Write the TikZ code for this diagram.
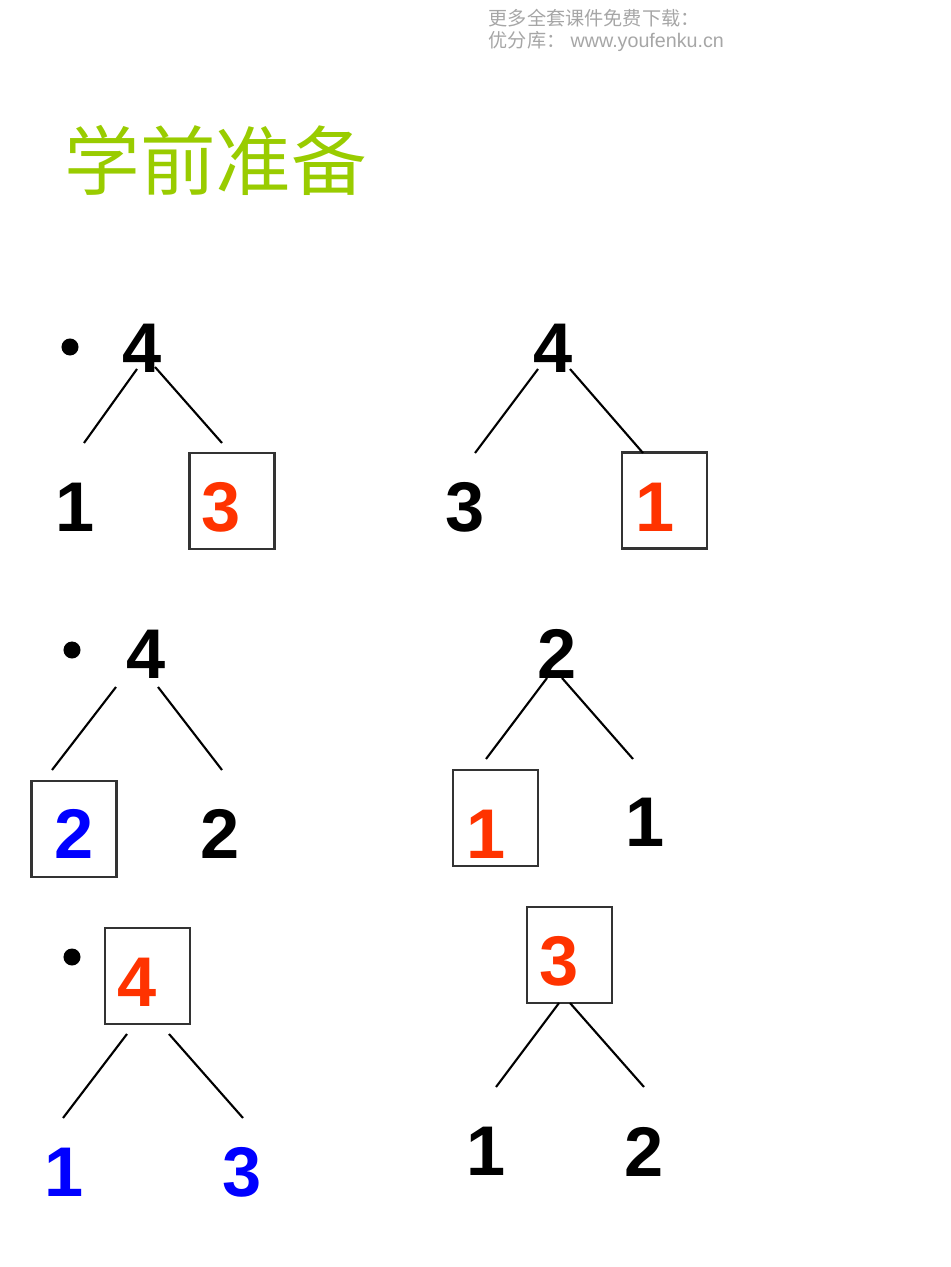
\documentclass[tikz,border=0pt]{standalone}
\usepackage{fontspec}
\setmainfont{Liberation Sans}
\newfontfamily\cjk{Noto Sans CJK SC}
\definecolor{titlegreen}{HTML}{99CC00}
\definecolor{numred}{HTML}{FF3300}
\definecolor{numblue}{HTML}{0000FF}
\definecolor{notegray}{HTML}{A6A6A6}
\begin{document}
\begin{tikzpicture}[x=0.01cm,y=-0.01cm,
	num/.style={font=\fontsize{20}{24}\selectfont\bfseries,inner sep=0pt},
	numbox/.style={draw=black!80,line width=0.6pt,minimum width=0.85cm,minimum height=0.96cm,inner sep=0pt},
	branch/.style={line width=0.6pt},
	dot/.style={circle,fill=black,inner sep=0pt,minimum size=0.17cm}]
	\useasboundingbox (0,0) rectangle (950,1267);
	%%%%%%%%%%%%%%%%%%%
	%     header      %
	%%%%%%%%%%%%%%%%%%%
		\node[anchor=west,inner sep=0pt,text=notegray,font=\fontsize{5.45}{6.5}\selectfont] (note1) at (488,18) {\cjk 更多全套课件免费下载：};
		\node[anchor=west,inner sep=0pt,text=notegray,font=\fontsize{5.45}{6.5}\selectfont] (note2) at (488,42) {{\cjk 优分库：} \fontsize{5.6}{6.5}\selectfont www.youfenku.cn};
		% title
		\node[anchor=west,inner sep=0pt,text=titlegreen,font=\fontsize{21.5}{26}\selectfont] (title) at (64,160) {\cjk 学前准备};
	%%%%%%%%%%%%%%%%%%%
	%     4 = 1 + 3   %
	%%%%%%%%%%%%%%%%%%%
		\node[dot] (dot1) at (70,347) {};
		\node[num] (top1) at (142,348) {4};
		\node[num] (left1) at (75.5,507) {1};
		\node[numbox] (box1) at (232,501) {};
		\node[num,text=numred] (right1) at (221,507) {3};
		% branches
			\coordinate (a1) at (137,369); \coordinate (b1) at (84,443);
			\coordinate (c1) at (155,367); \coordinate (d1) at (222,443);
			\draw[branch] (a1) -- (b1);
			\draw[branch] (c1) -- (d1);
	%%%%%%%%%%%%%%%%%%%
	%     4 = 3 + 1   %
	%%%%%%%%%%%%%%%%%%%
		\node[num] (top2) at (553.5,348) {4};
		\node[num] (left2) at (465,507) {3};
		\node[numbox] (box2) at (664.5,500.5) {};
		\node[num,text=numred] (right2) at (655,507) {1};
		% branches
			\coordinate (a2) at (538,369); \coordinate (b2) at (475,453);
			\coordinate (c2) at (570,369); \coordinate (d2) at (643,453);
			\draw[branch] (a2) -- (b2);
			\draw[branch] (c2) -- (d2);
	%%%%%%%%%%%%%%%%%%%
	%     4 = 2 + 2   %
	%%%%%%%%%%%%%%%%%%%
		\node[dot] (dot3) at (72,650) {};
		\node[num] (top3) at (146.5,654.5) {4};
		\node[numbox] (box3) at (74,829) {};
		\node[num,text=numblue] (left3) at (74.5,833.5) {2};
		\node[num] (right3) at (220.5,833.5) {2};
		% branches
			\coordinate (a3) at (116,687); \coordinate (b3) at (52,770);
			\coordinate (c3) at (158,687); \coordinate (d3) at (222,770);
			\draw[branch] (a3) -- (b3);
			\draw[branch] (c3) -- (d3);
	%%%%%%%%%%%%%%%%%%%
	%     2 = 1 + 1   %
	%%%%%%%%%%%%%%%%%%%
		\node[num] (top4) at (557.5,654) {2};
		\node[numbox] (box4) at (495.5,818) {};
		\node[num,text=numred] (left4) at (486,834) {1};
		\node[num] (right4) at (645,822.5) {1};
		% branches
			\coordinate (a4) at (547,678); \coordinate (b4) at (486,759);
			\coordinate (c4) at (562,678); \coordinate (d4) at (633,759);
			\draw[branch] (a4) -- (b4);
			\draw[branch] (c4) -- (d4);
	%%%%%%%%%%%%%%%%%%%
	%     4 = 1 + 3   %
	%%%%%%%%%%%%%%%%%%%
		\node[dot] (dot5) at (72,957) {};
		\node[numbox] (box5) at (147.5,976) {};
		\node[num,text=numred] (top5) at (137.5,982) {4};
		\node[num,text=numblue] (left5) at (64.5,1172) {1};
		\node[num,text=numblue] (right5) at (242.5,1172) {3};
		% branches
			\coordinate (a5) at (127,1034); \coordinate (b5) at (63,1118);
			\coordinate (c5) at (169,1034); \coordinate (d5) at (243,1118);
			\draw[branch] (a5) -- (b5);
			\draw[branch] (c5) -- (d5);
	%%%%%%%%%%%%%%%%%%%
	%     3 = 1 + 2   %
	%%%%%%%%%%%%%%%%%%%
		\node[numbox] (box6) at (569.5,955) {};
		\node[num,text=numred] (top6) at (559.5,961) {3};
		\node[num] (left6) at (486.5,1151.5) {1};
		\node[num] (right6) at (644.5,1151.5) {2};
		% branches
			\coordinate (a6) at (559,1003); \coordinate (b6) at (496,1087);
			\coordinate (c6) at (570,1003); \coordinate (d6) at (644,1087);
			\draw[branch] (a6) -- (b6);
			\draw[branch] (c6) -- (d6);
\end{tikzpicture}
\end{document}
